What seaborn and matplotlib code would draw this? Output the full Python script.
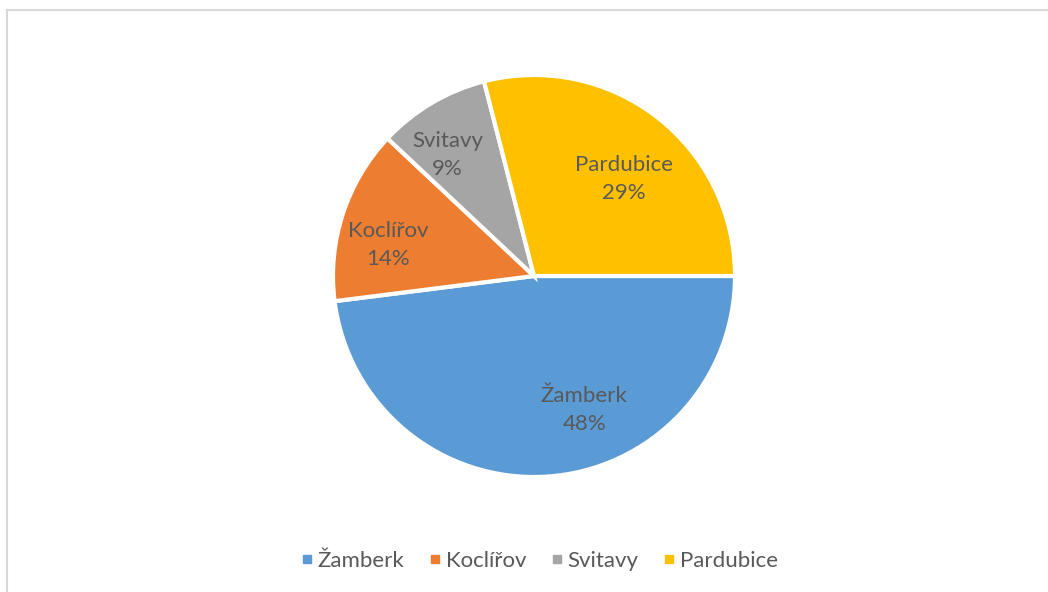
import numpy as np
import matplotlib
matplotlib.use("Agg")
import matplotlib.pyplot as plt
from matplotlib.patches import Rectangle
from matplotlib.lines import Line2D
import seaborn as sns

# data
towns = ["Žamberk", "Koclířov", "Svitavy", "Pardubice"]
shares = [48, 14, 9, 29]

sns.set_theme(style="white")
plt.rcParams['font.family'] = ['Lato', 'DejaVu Sans']

colors = ["#5B9BD5", "#ED7D31", "#A5A5A5", "#FFC000"]
text_col = "#595959"

fig = plt.figure(figsize=(10.48, 5.92), dpi=100)
fig.patch.set_facecolor("white")

# pie area: centre ~ (534, 276) px, radius ~201 px
cx, cy, r = 534, 276, 201
ax = fig.add_axes([(cx - r) / 1048, 1 - (cy + r) / 592, 2 * r / 1048, 2 * r / 592])

wedges, _ = ax.pie(shares, colors=colors, startangle=0, counterclock=False,
                   wedgeprops=dict(edgecolor="white", linewidth=3))
for w in wedges:
    w.set_clip_on(False)
ax.set_xlim(-1, 1)
ax.set_ylim(-1, 1)
ax.set_aspect("equal")
ax.axis("off")

# Excel-like inside label placement (radius fraction, angle nudge in degrees)
lab_r = [0.71, 0.74, 0.74, 0.66]
lab_nudge = [17, 6, 5, -5]
for w, name, val, rr, dn in zip(wedges, towns, shares, lab_r, lab_nudge):
    mid = np.deg2rad((w.theta1 + w.theta2) / 2 + dn)
    ax.text(rr * np.cos(mid), rr * np.sin(mid), f"{name}\n{val}%",
            ha="center", va="center", fontsize=16, color=text_col,
            linespacing=1.5)

# legend
handles = [Line2D([0], [0], marker="s", linestyle="", markersize=6,
                  markerfacecolor=c, markeredgecolor=c) for c in colors]
fig.legend(handles, towns, loc="center", bbox_to_anchor=(539 / 1048, 1 - 561 / 592),
           ncol=4, frameon=False, fontsize=16, labelcolor=text_col,
           handlelength=0.6, handletextpad=0.18, columnspacing=1.08)

# chart area border (only top/left visible)
fig.add_artist(Rectangle((6.5 / 1048, -0.1), 1.2, 1 - 9.5 / 592 + 0.1,
                         transform=fig.transFigure, fill=False,
                         edgecolor="#D9D9D9", linewidth=1.5))

fig.savefig("out.png", dpi=100, facecolor="white")
